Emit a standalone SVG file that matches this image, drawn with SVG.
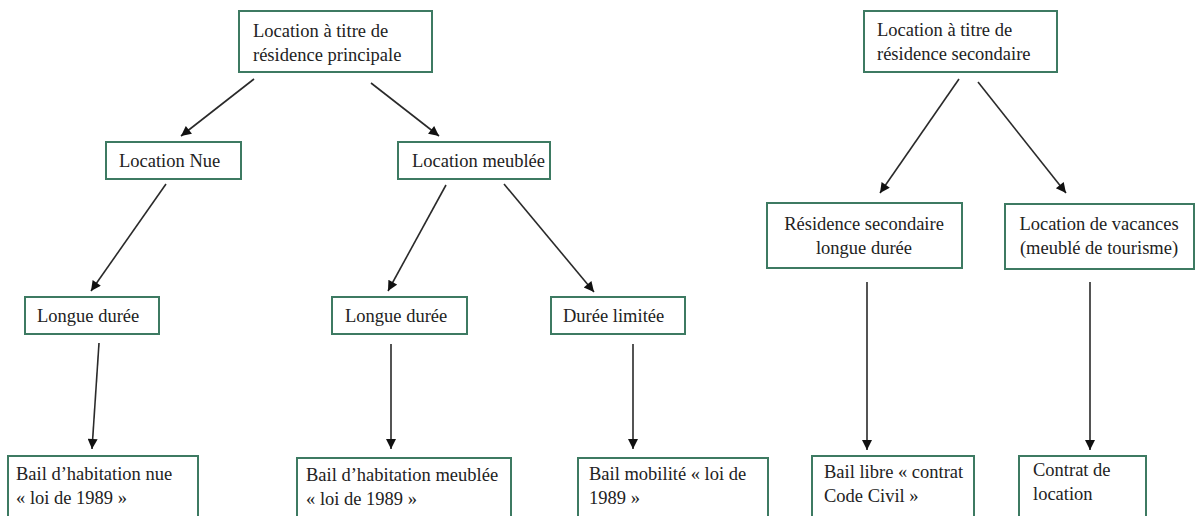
<svg xmlns="http://www.w3.org/2000/svg" width="1198" height="516" viewBox="0 0 1198 516">
<style>
.box{fill:#fff;stroke:#3d7a62;stroke-width:2}
.t{font-family:"Liberation Serif","Times New Roman",serif;font-size:18.5px;fill:#222}
.c{text-anchor:middle}
.ln{stroke:#2a2a2a;stroke-width:1.6;fill:none;marker-end:url(#ah)}
</style>
<defs>
<marker id="ah" viewBox="0 0 10 10" refX="10" refY="5" markerWidth="12" markerHeight="10" markerUnits="userSpaceOnUse" orient="auto"><path d="M0,0 L10,5 L0,10 z" fill="#111"/></marker>
</defs>
<rect width="1198" height="516" fill="#fff"/>
<g id="connectors">
<line class="ln" x1="254" y1="79" x2="181" y2="136"/>
<line class="ln" x1="371" y1="83" x2="439" y2="136"/>
<line class="ln" x1="959" y1="79" x2="880" y2="193"/>
<line class="ln" x1="978" y1="82" x2="1066" y2="193"/>
<line class="ln" x1="166" y1="184" x2="91" y2="291"/>
<line class="ln" x1="446" y1="185" x2="388" y2="291"/>
<line class="ln" x1="504" y1="184" x2="594" y2="292"/>
<line class="ln" x1="99" y1="343" x2="92" y2="449"/>
<line class="ln" x1="391" y1="344" x2="391" y2="449"/>
<line class="ln" x1="633" y1="344" x2="633" y2="449"/>
<line class="ln" x1="867" y1="282" x2="867" y2="450"/>
<line class="ln" x1="1090" y1="282" x2="1090" y2="450"/>
</g>
<g id="n-principale"><rect class="box" x="239" y="11" width="193" height="61"/><text class="t" x="253" y="37">Location à titre de</text><text class="t" x="253" y="61">résidence principale</text></g>
<g id="n-secondaire"><rect class="box" x="864" y="11" width="193" height="61"/><text class="t" x="877" y="36">Location à titre de</text><text class="t" x="877" y="60">résidence secondaire</text></g>
<g id="n-nue"><rect class="box" x="106" y="142" width="135" height="37"/><text class="t" x="119" y="167">Location Nue</text></g>
<g id="n-meublee"><rect class="box" x="398" y="142" width="152" height="37"/><text class="t" x="412" y="167">Location meublée</text></g>
<g id="n-res-longue"><rect class="box" x="767" y="203" width="195" height="65"/><text class="t c" x="864" y="230">Résidence secondaire</text><text class="t c" x="864" y="254">longue durée</text></g>
<g id="n-vacances"><rect class="box" x="1005" y="204" width="189" height="65"/><text class="t c" x="1099" y="230">Location de vacances</text><text class="t c" x="1099" y="254">(meublé de tourisme)</text></g>
<g id="n-longue1"><rect class="box" x="25" y="297" width="134" height="37"/><text class="t" x="37" y="322">Longue durée</text></g>
<g id="n-longue2"><rect class="box" x="332" y="297" width="135" height="37"/><text class="t" x="345" y="322">Longue durée</text></g>
<g id="n-limitee"><rect class="box" x="551" y="297" width="134" height="37"/><text class="t" x="563" y="322">Durée limitée</text></g>
<g id="n-bail-nue"><rect class="box" x="8" y="456" width="190" height="80"/><text class="t" x="16" y="480">Bail d’habitation nue</text><text class="t" x="16" y="504">« loi de 1989 »</text></g>
<g id="n-bail-meublee"><rect class="box" x="297" y="458" width="214" height="80"/><text class="t" x="306" y="481">Bail d’habitation meublée</text><text class="t" x="306" y="505">« loi de 1989 »</text></g>
<g id="n-bail-mobilite"><rect class="box" x="578" y="458" width="190" height="80"/><text class="t" x="589" y="480">Bail mobilité « loi de</text><text class="t" x="589" y="504">1989 »</text></g>
<g id="n-bail-libre"><rect class="box" x="812" y="456" width="162" height="80"/><text class="t" x="824" y="478">Bail libre « contrat</text><text class="t" x="824" y="502">Code Civil »</text></g>
<g id="n-contrat"><rect class="box" x="1019" y="456" width="127" height="80"/><text class="t" x="1033" y="476">Contrat de</text><text class="t" x="1033" y="500">location</text></g>
</svg>
